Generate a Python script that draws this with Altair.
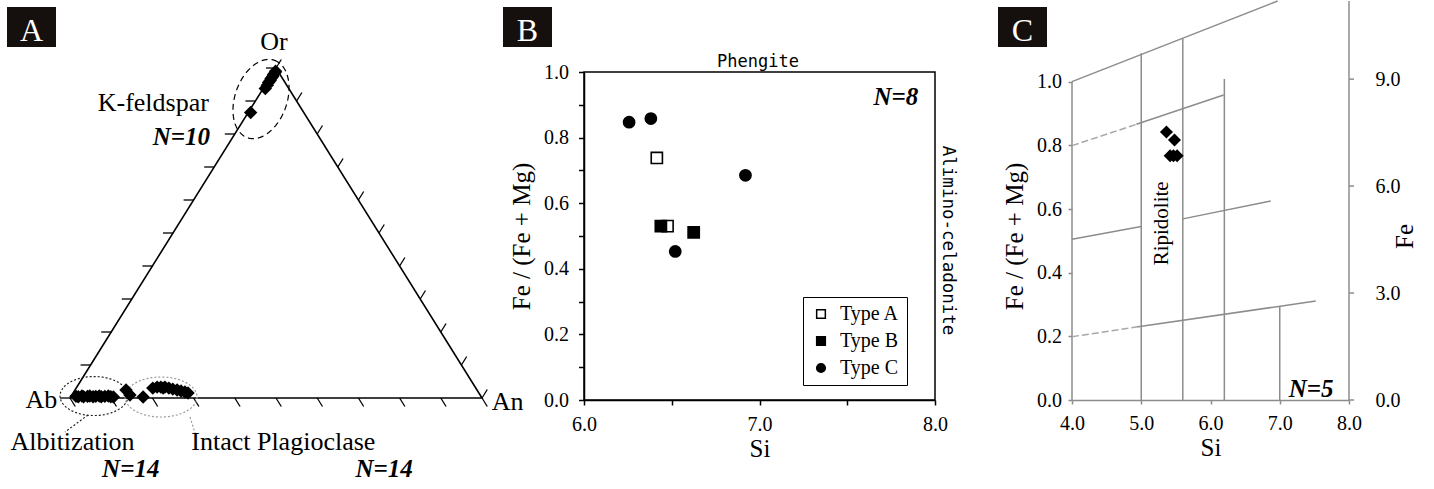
import altair as alt
import numpy as np
import pandas as pd

FONT = "Liberation Serif"
MONO = "DejaVu Sans Mono"
GRAY = "#8c8c8c"
DASHGRAY = "#a8a8a8"
BOX = "#150f0d"

# ---------------- Panel A : feldspar ternary (mole fractions) ----------------
kfs_or = [0.990, 0.986, 0.980, 0.974, 0.968, 0.962, 0.956, 0.948, 0.938, 0.865]
kfs_an = [0.004, 0.005, 0.004, 0.005, 0.004, 0.005, 0.004, 0.005, 0.005, 0.006]
alb_an = [0.012, 0.018, 0.026, 0.031, 0.040, 0.045, 0.054, 0.060, 0.068, 0.074, 0.082, 0.090, 0.097, 0.104]
alb_or = [0.005, 0.004, 0.006, 0.004, 0.005, 0.006, 0.004, 0.005, 0.006, 0.004, 0.005, 0.006, 0.004, 0.003]
int_an = [0.124, 0.141, 0.176, 0.186, 0.195, 0.204, 0.211, 0.214, 0.225, 0.236, 0.248, 0.259, 0.270, 0.279]
int_or = [0.024, 0.009, 0.003, 0.030, 0.033, 0.033, 0.030, 0.033, 0.030, 0.027, 0.024, 0.021, 0.018, 0.015]
tern_ticks = [0.0, 0.1, 0.2, 0.3, 0.4, 0.5, 0.6, 0.7, 0.8, 0.9, 1.0]

a_lab_text = ["Or", "K-feldspar", "Albitization", "Intact Plagioclase", "Ab", "An", "N=10", "N=14", "N=14"]
a_lab_x = [0.4951, 0.2022, 0.0061, 0.5177, -0.0307, 1.0235, 0.3398, 0.1475, 0.7626]
a_lab_y = [1.0536, 0.8688, -0.1576, -0.1576, -0.0312, -0.0364, 0.7676, -0.2385, -0.2385]
a_lab_align = ["center", "center", "center", "center", "right", "left", "right", "center", "center"]
a_lab_bold = [False, False, False, False, False, False, True, True, True]

# ---------------- Panel B : white mica ----------------
b_types = ["Type A", "Type B", "Type C"]
b_type = ["Type A", "Type A", "Type B", "Type B", "Type C", "Type C", "Type C", "Type C"]
b_si = [6.415, 6.476, 6.438, 6.625, 6.257, 6.381, 6.520, 6.920]
b_fe = [0.738, 0.530, 0.530, 0.511, 0.847, 0.858, 0.453, 0.685]
b_xticks = [6.0, 6.5, 7.0, 7.5, 8.0]
b_yticks = [0.0, 0.1, 0.2, 0.3, 0.4, 0.5, 0.6, 0.7, 0.8, 0.9, 1.0]

# ---------------- Panel C : chlorite (Hey diagram) ----------------
c_si = [5.364, 5.480, 5.417, 5.518, 5.465]
c_fe = [0.842, 0.817, 0.767, 0.767, 0.767]
c_seg_x1 = [4.0, 5.0, 5.6, 6.2, 7.0, 8.0, 4.0, 4.0, 4.93, 4.0, 5.6, 4.0, 4.93]
c_seg_y1 = [1.0, 0.0, 0.0, 0.0, 0.0, 0.0, 0.0, 0.799, 0.866, 0.505, 0.569, 0.199, 0.229]
c_seg_x2 = [6.97, 5.0, 5.6, 6.2, 7.0, 8.0, 4.0, 4.93, 6.19, 5.0, 6.87, 4.93, 7.52]
c_seg_y2 = [1.2535, 1.089, 1.136, 1.008, 0.295, 1.2535, 1.0, 0.866, 0.958, 0.545, 0.625, 0.229, 0.311]
c_seg_style = ["solid", "solid", "solid", "solid", "solid", "solid", "solid",
               "dash", "solid", "solid", "solid", "dash", "solid"]
c_xticks = [4.0, 5.0, 6.0, 7.0, 8.0]
c_yticks = [0.0, 0.2, 0.4, 0.6, 0.8, 1.0]
c_fe_ticks = [0.0, 3.0, 6.0, 9.0]

# ================= layout geometry =================
SX, SY = 412.0, 330.0          # ternary px per unit
WA, HA = 377, 326
WB, HB = 351, 328
WC, HC = 277, 328
SPACING = 137
A_ORIGIN_X = 70
FE_MAX = 9.2
YC_MAX = HC / 318.33


def letter_box(letter, x0, x1, y0, y1):
    d = pd.DataFrame({"t": [letter]})
    rect = alt.Chart(d).mark_rect(color=BOX).encode(
        x=alt.value(x0), x2=alt.value(x1), y=alt.value(y0), y2=alt.value(y1))
    txt = alt.Chart(d).mark_text(font=FONT, fontSize=32, color="white", align="center",
                                 baseline="alphabetic").encode(
        x=alt.value((x0 + x1) / 2), y=alt.value(y1 - 6), text="t:N")
    return [rect, txt]


# ---------------- Panel A build ----------------
xa = alt.Scale(domain=[0, WA / SX], nice=False, zero=False)
ya = alt.Scale(domain=[0, HA / SY], nice=False, zero=False)
XA = alt.X("x:Q", scale=xa, axis=None)
YA = alt.Y("y:Q", scale=ya, axis=None)

frames = []
for ors, ans in [(kfs_or, kfs_an), (alb_or, alb_an), (int_or, int_an)]:
    o = np.asarray(ors, float)
    a = np.asarray(ans, float)
    frames.append(pd.DataFrame({"x": a + 0.5 * o, "y": o}))
a_pts = pd.concat(frames, ignore_index=True)

tri = pd.DataFrame({"x": [0.0, 0.5, 1.0, 0.0], "y": [0.0, 1.0, 0.0, 0.0], "k": [0, 1, 2, 3]})

f = np.asarray(tern_ticks)
L = 10.0
ex, ey = SX * 0.5, SY * 1.0
nrm = np.hypot(ex, ey)
ux, uy = ex / nrm, ey / nrm
ticks = pd.concat([
    pd.DataFrame({"x": 0.5 * f, "y": f, "x2": 0.5 * f - L / SX, "y2": f}),
    pd.DataFrame({"x": f, "y": 0 * f, "x2": f + L * ux / SX, "y2": -L * uy / SY}),
    pd.DataFrame({"x": 1 - 0.5 * f, "y": f, "x2": 1 - 0.5 * f + L * ux / SX, "y2": f + L * uy / SY}),
], ignore_index=True)


def ellipse(cx, cy, a, b, rot_deg):
    t = np.linspace(0, 2 * np.pi, 121)
    r = np.deg2rad(rot_deg)
    dx = a * np.cos(t) * np.cos(r) - b * np.sin(t) * np.sin(r)
    dy = a * np.cos(t) * np.sin(r) + b * np.sin(t) * np.cos(r)
    return pd.DataFrame({"x": cx + dx / SX, "y": cy - dy / SY, "k": np.arange(len(t))})


ell_k = ellipse(0.4636, 0.906, 41, 26, -70.7)
ell_alb = ellipse(0.0583, 0.006, 34, 19.5, 0)
ell_int = ellipse(0.2209, 0.003, 36, 20, 0)
lead_alb = pd.DataFrame({"x": [0.0437], "y": [-0.0515], "x2": [-0.0121], "y2": [-0.103]})
lead_int = pd.DataFrame({"x": [0.2913], "y": [-0.0576], "x2": [0.3034], "y2": [-0.1061]})

labA = pd.DataFrame({"text": a_lab_text, "x": a_lab_x, "y": a_lab_y,
                     "align": a_lab_align, "bold": a_lab_bold})

layersA = [
    alt.Chart(pd.DataFrame({"t": [0]})).mark_rect(opacity=0).encode(
        x=alt.value(-A_ORIGIN_X), x2=alt.value(0), y=alt.value(-72), y2=alt.value(0)),
    alt.Chart(tri).mark_line(color="black", strokeWidth=1.6).encode(x=XA, y=YA, order="k:Q"),
    alt.Chart(ticks).mark_rule(color="black", strokeWidth=1.3).encode(
        x=XA, y=YA, x2="x2:Q", y2="y2:Q"),
    alt.Chart(ell_k).mark_line(color="black", strokeWidth=1.2, strokeDash=[6, 4]).encode(
        x=XA, y=YA, order="k:Q"),
    alt.Chart(ell_alb).mark_line(color="#222222", strokeWidth=1.2, strokeDash=[2, 2]).encode(
        x=XA, y=YA, order="k:Q"),
    alt.Chart(ell_int).mark_line(color="#999999", strokeWidth=1.2, strokeDash=[2, 2]).encode(
        x=XA, y=YA, order="k:Q"),
    alt.Chart(lead_alb).mark_rule(color="#222222", strokeWidth=1.2, strokeDash=[2, 2]).encode(
        x=XA, y=YA, x2="x2:Q", y2="y2:Q"),
    alt.Chart(lead_int).mark_rule(color="#999999", strokeWidth=1.2, strokeDash=[2, 2]).encode(
        x=XA, y=YA, x2="x2:Q", y2="y2:Q"),
    alt.Chart(a_pts).mark_point(shape="diamond", filled=True, color="black", size=180, opacity=1).encode(
        x=XA, y=YA),
]
for al in ["center", "right", "left"]:
    for bold in [False, True]:
        sub = labA[(labA["align"] == al) & (labA["bold"] == bold)]
        if len(sub) == 0:
            continue
        kw = dict(font=FONT, align=al, baseline="alphabetic", color="black")
        if bold:
            kw.update(fontSize=25, fontWeight="bold", fontStyle="italic")
        else:
            kw.update(fontSize=26)
        layersA.append(alt.Chart(sub).mark_text(**kw).encode(x=XA, y=YA, text="text:N"))
layersA += letter_box("A", -63, -14, -65, -25)
panelA = alt.layer(*layersA).properties(width=WA, height=HA)

# ---------------- Panel B build ----------------
xb = alt.Scale(domain=[6, 8], nice=False, zero=False)
yb = alt.Scale(domain=[0, 1], nice=False, zero=False)
axis_bx = alt.Axis(values=b_xticks, labelExpr="datum.value % 1 == 0 ? format(datum.value, '.1f') : ''",
                   tickSize=5, labelPadding=9, titlePadding=2, domainWidth=1.5, tickWidth=1.5,
                   labelFlush=False, labelOverlap=False)
axis_by = alt.Axis(values=b_yticks,
                   labelExpr="round(datum.value * 10) % 2 == 0 ? format(datum.value, '.1f') : ''",
                   tickSize=5.5, labelPadding=10, titlePadding=9, domainWidth=1.5, tickWidth=1.5,
                   labelOverlap=False)
XB = alt.X("x:Q", scale=xb, title="Si", axis=axis_bx)
YB = alt.Y("y:Q", scale=yb, title="Fe / (Fe + Mg)", axis=axis_by)

# legend lives at the concat level: position it relative to panel A's origin
legend_b = alt.Legend(title=None, orient="none",
                      legendX=(WA + SPACING) + 219, legendY=225,
                      padding=7, rowPadding=7,
                      strokeColor="black", fillColor="white", labelFont=FONT, labelFontSize=20,
                      symbolSize=75, symbolStrokeWidth=1.5, symbolOffset=1, labelOffset=9)
b_df = pd.DataFrame({"Type": b_type, "x": b_si, "y": b_fe})
pts_b = alt.Chart(b_df).mark_point(filled=True, size=125, strokeWidth=1.6,
                                   opacity=1, fillOpacity=1).encode(
    x=XB, y=YB,
    shape=alt.Shape("Type:N", scale=alt.Scale(domain=b_types, range=["square", "square", "circle"]),
                    legend=legend_b),
    fill=alt.Fill("Type:N", scale=alt.Scale(domain=b_types, range=["white", "black", "black"]),
                  legend=legend_b),
    stroke=alt.Stroke("Type:N", scale=alt.Scale(domain=b_types, range=["black", "black", "black"]),
                      legend=legend_b),
)


def txt_b(text, x, y, **kw):
    d = pd.DataFrame({"text": [text], "x": [x], "y": [y]})
    return alt.Chart(d).mark_text(**kw).encode(x=XB, y=YB, text="text:N")


layersB = [
    pts_b,
    txt_b("Phengite", 6.991, 1.0153, font=MONO, fontSize=17, align="center", baseline="alphabetic",
          color="black"),
    txt_b("Alimino-celadonite", 8.073, 0.486, font=MONO, fontSize=17.5, align="center",
          baseline="middle", angle=90, color="black"),
    txt_b("N=8", 7.905, 0.898, font=FONT, fontSize=25, fontWeight="bold", fontStyle="italic",
          align="right", baseline="alphabetic", color="black"),
] + letter_box("B", -81, -32, -65, -25)
panelB = alt.layer(*layersB).properties(
    width=WB, height=HB, view=alt.ViewBackground(stroke="black", strokeWidth=1.5))

# ---------------- Panel C build ----------------
xc = alt.Scale(domain=[4, 8], nice=False, zero=False)
yc = alt.Scale(domain=[0, YC_MAX], nice=False, zero=False)
axis_cx = alt.Axis(values=c_xticks, format=".1f", tickSize=4, labelPadding=9, titlePadding=2,
                   domainColor=GRAY, tickColor=GRAY, domainWidth=1.5, tickWidth=1.5,
                   labelFlush=False, labelOverlap=False)
axis_cy = alt.Axis(values=c_yticks, format=".1f", tickSize=4, labelPadding=6.5, titlePadding=9,
                   domain=False, tickColor=GRAY, tickWidth=1.5, labelOverlap=False)
XC = alt.X("x:Q", scale=xc, title="Si", axis=axis_cx)
YC = alt.Y("y:Q", scale=yc, title="Fe / (Fe + Mg)", axis=axis_cy)

segs = pd.DataFrame({"x": c_seg_x1, "y": c_seg_y1, "x2": c_seg_x2, "y2": c_seg_y2, "style": c_seg_style})
rules_solid = alt.Chart(segs[segs["style"] == "solid"]).mark_rule(color=GRAY, strokeWidth=1.5).encode(
    x=XC, y=YC, x2="x2:Q", y2="y2:Q")
rules_dash = alt.Chart(segs[segs["style"] == "dash"]).mark_rule(
    color=DASHGRAY, strokeWidth=1.5, strokeDash=[7, 3]).encode(x=XC, y=YC, x2="x2:Q", y2="y2:Q")
# short outward ticks of the right-hand Fe axis, attached to the Si = 8 line
fe_t = np.asarray(c_fe_ticks) * YC_MAX / FE_MAX
fe_tick_df = pd.DataFrame({"x": 8.0, "x2": 8.0 + 5 / 69.25, "y": fe_t, "y2": fe_t})
fe_ticks = alt.Chart(fe_tick_df).mark_rule(color=GRAY, strokeWidth=1.5).encode(
    x=XC, y=YC, x2="x2:Q", y2="y2:Q")
pts_c = alt.Chart(pd.DataFrame({"x": c_si, "y": c_fe})).mark_point(
    shape="diamond", filled=True, color="black", size=170, opacity=1).encode(x=XC, y=YC)


def txt_c(text, x, y, **kw):
    d = pd.DataFrame({"text": [text], "x": [x], "y": [y]})
    return alt.Chart(d).mark_text(**kw).encode(x=XC, y=YC, text="text:N")


main_c = alt.layer(
    rules_solid, rules_dash, fe_ticks, pts_c,
    txt_c("Ripidolite", 5.300, 0.555, font=FONT, fontSize=21, align="center", baseline="middle",
          angle=270, color="black"),
    txt_c("N=5", 7.778, 0.0104, font=FONT, fontSize=25, fontWeight="bold", fontStyle="italic",
          align="right", baseline="alphabetic", color="black"),
    *letter_box("C", -74, -25, -65, -25),
)
fe_df = pd.DataFrame({"x": [8.0, 8.0], "fe": [0.0, 9.0]})
fe_layer = alt.Chart(fe_df).mark_point(opacity=0).encode(
    x=XC,
    y=alt.Y("fe:Q", scale=alt.Scale(domain=[0, FE_MAX], nice=False, zero=False),
            axis=alt.Axis(orient="right", values=c_fe_ticks, format=".1f", title="Fe", titleAngle=270,
                          offset=11, tickSize=5, tickOpacity=0, labelPadding=10, labelAlign="left",
                          titlePadding=17, domain=False, tickColor=GRAY, tickWidth=1.5,
                          labelOverlap=False)))
panelC = alt.layer(main_c, fe_layer).resolve_scale(y="independent").properties(width=WC, height=HC)

chart = alt.hconcat(panelA, panelB, panelC, spacing=SPACING, bounds="flush").properties(
    padding=0
).configure_view(strokeWidth=0).configure_axis(
    labelFont=FONT, labelFontSize=20, labelColor="black", titleFont=FONT, titleFontSize=25,
    titleFontWeight="normal", titleColor="black", grid=False, domainColor="black", tickColor="black"
)

chart.save("out.html", embed_options={"renderer": "svg", "actions": False})
